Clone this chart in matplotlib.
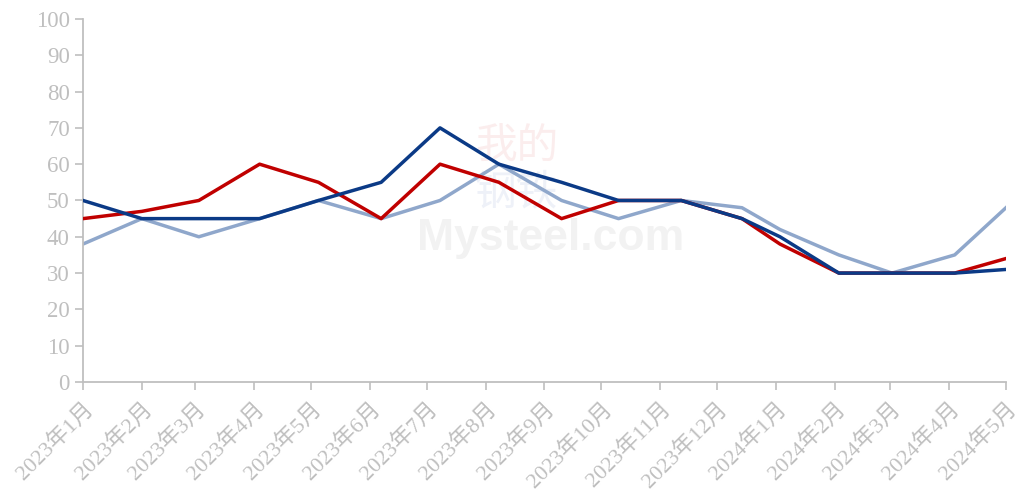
import pandas as pd
import matplotlib
matplotlib.use('Agg')
import matplotlib.pyplot as plt

# Data
month_ticks = pd.date_range('2023-01-01', '2024-05-01', freq='MS')
month_labels = ['2023年1月', '2023年2月', '2023年3月', '2023年4月', '2023年5月', '2023年6月',
                '2023年7月', '2023年8月', '2023年9月', '2023年10月', '2023年11月', '2023年12月',
                '2024年1月', '2024年2月', '2024年3月', '2024年4月', '2024年5月']
point_dates = pd.to_datetime(['2023-01-01', '2023-02-01', '2023-03-03', '2023-04-04', '2023-05-05',
                              '2023-06-07', '2023-07-08', '2023-08-08', '2023-09-10', '2023-10-10',
                              '2023-11-12', '2023-12-14', '2024-01-03', '2024-02-03', '2024-03-02',
                              '2024-04-04', '2024-05-01'])
light_vals = [38, 45, 40, 45, 50, 45, 50, 60, 50, 45, 50, 48, 42, 35, 30, 35, 48]
red_vals = [45, 47, 50, 60, 55, 45, 60, 55, 45, 50, 50, 45, 38, 30, 30, 30, 34]
blue_vals = [50, 45, 45, 45, 50, 55, 70, 60, 55, 50, 50, 45, 40, 30, 30, 30, 31]

grey = '#BFBFBF'
font = ['Liberation Serif', 'Noto Sans CJK SC']

fig = plt.figure(figsize=(10.22, 4.99), dpi=100)
ax = fig.add_axes([0.0812, 0.2345, 0.9031, 0.7275])

# faint watermark
ax.text(0.507, 0.395, 'Mysteel.com', transform=ax.transAxes, ha='center', va='center',
        fontsize=32, fontweight='bold', family='Liberation Sans', color='#F2F2F2', zorder=0)
ax.text(0.47, 0.645, '我的', transform=ax.transAxes, ha='center', va='center',
        fontsize=30, family='Noto Sans CJK SC', color='#FBEDED', zorder=0)
ax.text(0.47, 0.52, '钢铁', transform=ax.transAxes, ha='center', va='center',
        fontsize=30, family='Noto Sans CJK SC', color='#EEF1F8', zorder=0)

ax.plot(point_dates, light_vals, color='#8FA7CB', lw=2.5, zorder=2)
ax.plot(point_dates, red_vals, color='#C00000', lw=2.5, zorder=3)
ax.plot(point_dates, blue_vals, color='#0B3A86', lw=2.5, zorder=4)

ax.set_ylim(0, 100)
ax.set_yticks(range(0, 101, 10))
ax.set_xlim(month_ticks[0], month_ticks[-1])
ax.set_xticks(month_ticks)
ax.set_xticklabels(month_labels, rotation=45, ha='right', va='top', rotation_mode='anchor')

for s in ['top', 'right']:
    ax.spines[s].set_visible(False)
for s in ['left', 'bottom']:
    ax.spines[s].set_color(grey)
    ax.spines[s].set_linewidth(1.3)
ax.tick_params(axis='both', colors=grey, length=6, width=1.2, labelsize=16.5)
ax.tick_params(axis='x', pad=6, labelsize=16)
for lab in ax.get_xticklabels() + ax.get_yticklabels():
    lab.set_family(font)
    lab.set_color(grey)

plt.savefig('out.png', dpi=100)
